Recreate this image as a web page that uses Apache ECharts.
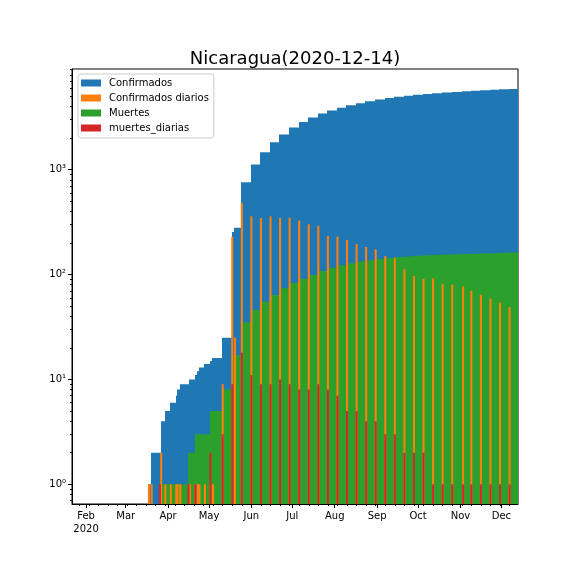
<!DOCTYPE html>
<html>
<head>
<meta charset="utf-8">
<script src="https://cdn.jsdelivr.net/npm/echarts@6/dist/echarts.min.js"></script>
<style>
html, body { margin: 0; padding: 0; background: #fff; }
#chart { width: 576px; height: 576px; }
</style>
</head>
<body>
<div id="chart"></div>
<script>
'use strict';

var DAY = 86400000;

// dias con cambios (2020)
var fechas = ['03-18', '03-20', '03-26', '03-27', '03-30', '04-03', '04-07', '04-08', '04-10', '04-16',
    '04-17', '04-21', '04-23', '04-24', '04-28', '05-02', '05-04', '05-11', '05-18', '05-20',
    '05-25', '06-01', '06-08', '06-15', '06-22', '06-29', '07-06', '07-13', '07-20', '07-27',
    '08-03', '08-10', '08-17', '08-24', '08-31', '09-07', '09-14', '09-21', '09-28', '10-05',
    '10-12', '10-19', '10-26', '11-03', '11-09', '11-16', '11-23', '11-30', '12-07'];
var confirmados = [1, 2, 2, 4, 5, 6, 7, 8, 9, 9,
    10, 11, 12, 13, 14, 15, 16, 25, 254, 279,
    759, 1118, 1464, 1823, 2170, 2519, 2846, 3147, 3439, 3672,
    3902, 4115, 4311, 4494, 4668, 4818, 4961, 5073, 5170, 5261,
    5353, 5434, 5514, 5591, 5661, 5725, 5784, 5838, 5887];
var confirmadosDiarios = [1, 1, 0, 2, 1, 1, 1, 1, 1, 0,
    1, 1, 1, 1, 1, 1, 1, 9, 229, 25,
    480, 359, 346, 359, 347, 349, 327, 301, 292, 233,
    230, 213, 196, 183, 174, 150, 143, 112, 97, 91,
    92, 81, 80, 77, 70, 64, 59, 54, 49];
var muertes = [0, 0, 1, 1, 1, 1, 1, 1, 1, 2,
    2, 3, 3, 3, 3, 5, 5, 8, 17, 17,
    35, 46, 55, 64, 74, 83, 91, 99, 108, 116,
    123, 128, 133, 137, 141, 144, 147, 149, 151, 153,
    154, 155, 156, 157, 158, 159, 160, 161, 162];
var muertesDiarias = [0, 0, 1, 0, 0, 0, 0, 0, 0, 1,
    0, 1, 0, 0, 0, 2, 0, 3, 9, 0,
    18, 11, 9, 9, 10, 9, 8, 8, 9, 8,
    7, 5, 5, 4, 4, 3, 3, 2, 2, 2,
    1, 1, 1, 1, 1, 1, 1, 1, 1];

var primerDia = '01-22';
var ultimoDia = '12-13';

var mesesTicks = ['02-01', '03-01', '04-01', '05-01', '06-01', '07-01', '08-01', '09-01', '10-01', '11-01', '12-01'];
var mesesLabels = ['Feb\n2020', 'Mar', 'Apr', 'May', 'Jun', 'Jul', 'Aug', 'Sep', 'Oct', 'Nov', 'Dec'];
var yTicks = [1, 10, 100, 1000];
var yLabels = ['10\u2070', '10\u00b9', '10\u00b2', '10\u00b3'];
var yMinor = [0.7, 0.8, 0.9, 2, 3, 4, 5, 6, 7, 8, 9, 20, 30, 40, 50, 60, 70, 80, 90,
    200, 300, 400, 500, 600, 700, 800, 900, 2000, 3000, 4000, 5000, 6000, 7000, 8000, 9000];

var Y_MIN = 0.649, Y_MAX = 9120;
var colores = ['#1f77b4', '#ff7f0e', '#2ca02c', '#d62728'];

function ts(md) {
    var p = md.split('-');
    return Date.UTC(2020, parseInt(p[0], 10) - 1, parseInt(p[1], 10));
}

var X_MIN = ts(primerDia) - 0.3 * DAY;
var X_MAX = ts(ultimoDia) + 0.15 * DAY;

// acumulados: un valor por dia, se mantiene el ultimo reportado
function acumulado(valores) {
    var out = [];
    var j = -1;
    for (var t = ts(primerDia); t <= ts(ultimoDia); t += DAY) {
        while (j + 1 < fechas.length && ts(fechas[j + 1]) <= t) j++;
        if (j >= 0 && valores[j] > 0) out.push([t, valores[j]]);
    }
    return out;
}

function diarios(valores) {
    var out = [];
    for (var i = 0; i < fechas.length; i++) {
        if (valores[i] > 0) out.push([ts(fechas[i]), valores[i]]);
    }
    return out;
}

// lunes para ticks menores
var semanas = [];
for (var t = ts('01-27'); t <= X_MAX; t += 7 * DAY) semanas.push(t);

function barra(anchoDias, pegado) {
    return function (params, api) {
        var t = api.value(0), v = api.value(1);
        var top = api.coord([t, v]);
        var izq = api.coord([t - anchoDias * DAY / 2, v])[0];
        var der = api.coord([t + anchoDias * DAY / 2, v])[0];
        var base = api.coord([t, Y_MIN]);
        if (pegado) {
            // bordes enteros para que las barras diarias queden sin rendijas
            izq = Math.round(izq);
            der = Math.round(der);
        }
        return {
            type: 'rect',
            shape: { x: izq, y: top[1], width: der - izq, height: base[1] - top[1] },
            style: { fill: api.visual('color') },
            silent: true
        };
    };
}

function serie(nombre, datos, color, ancho, pegado) {
    return {
        name: nombre,
        type: 'custom',
        renderItem: barra(ancho, pegado),
        itemStyle: { color: color },
        encode: { x: 0, y: 1 },
        data: datos,
        clip: true,
        animation: false
    };
}

function etiquetaMes(v) {
    var d = new Date(v);
    var md = ('0' + (d.getUTCMonth() + 1)).slice(-2) + '-' + ('0' + d.getUTCDate()).slice(-2);
    var i = mesesTicks.indexOf(md);
    return i >= 0 ? mesesLabels[i] : '';
}

var chart = echarts.init(document.getElementById('chart'), null, { renderer: 'canvas' });

chart.setOption({
    animation: false,
    textStyle: { fontFamily: 'DejaVu Sans', color: '#000' },
    title: {
        text: 'Nicaragua(2020-12-14)',
        left: 290,
        textAlign: 'center',
        top: 45,
        textStyle: { fontFamily: 'DejaVu Sans', fontSize: 18, fontWeight: 'normal', color: '#000' }
    },
    legend: {
        data: ['Confirmados', 'Confirmados diarios', 'Muertes', 'muertes_diarias'],
        orient: 'vertical',
        left: 78,
        top: 74,
        icon: 'rect',
        itemWidth: 20,
        itemHeight: 7,
        itemGap: 3,
        padding: [3, 5, 4, 3],
        borderColor: '#cccccc',
        borderWidth: 1,
        borderRadius: 3,
        backgroundColor: 'rgba(255,255,255,0.8)',
        textStyle: { fontFamily: 'DejaVu Sans', fontSize: 10, lineHeight: 12, color: '#000', padding: [0, 0, 0, 3] },
        selectedMode: false
    },
    grid: {
        left: 72, right: 58, top: 69, bottom: 72,
        show: true, borderColor: '#000', borderWidth: 1
    },
    xAxis: [{
        type: 'value',
        min: X_MIN,
        max: X_MAX,
        axisLine: { lineStyle: { color: '#000', width: 1 } },
        axisTick: { show: true, length: 4, lineStyle: { color: '#000' }, customValues: mesesTicks.map(ts) },
        axisLabel: {
            customValues: mesesTicks.map(ts),
            color: '#000', fontSize: 10, lineHeight: 13, margin: 6,
            fontFamily: 'DejaVu Sans',
            formatter: etiquetaMes
        },
        splitLine: { show: false }
    }, {
        type: 'value',
        min: X_MIN,
        max: X_MAX,
        position: 'bottom',
        axisLine: { show: false },
        axisTick: { show: true, length: 2, lineStyle: { color: '#000' }, customValues: semanas },
        axisLabel: { show: false },
        splitLine: { show: false }
    }],
    yAxis: [{
        type: 'log',
        min: Y_MIN,
        max: Y_MAX,
        logBase: 10,
        axisLine: { show: true, lineStyle: { color: '#000', width: 1 } },
        axisTick: { show: true, length: 4, lineStyle: { color: '#000' }, customValues: yTicks },
        axisLabel: {
            customValues: yTicks,
            color: '#000', fontSize: 10, margin: 6, fontFamily: 'DejaVu Sans',
            formatter: function (v) {
                var i = yTicks.indexOf(Math.round(v));
                return i >= 0 ? yLabels[i] : '';
            }
        },
        splitLine: { show: false }
    }, {
        type: 'log',
        min: Y_MIN,
        max: Y_MAX,
        logBase: 10,
        position: 'left',
        axisLine: { show: false },
        axisTick: { show: true, length: 2, lineStyle: { color: '#000' }, customValues: yMinor },
        axisLabel: { show: false },
        splitLine: { show: false }
    }],
    series: [
        serie('Confirmados', acumulado(confirmados), colores[0], 1, true),
        serie('Muertes', acumulado(muertes), colores[2], 1, true),
        serie('Confirmados diarios', diarios(confirmadosDiarios), colores[1], 1.5, false),
        serie('muertes_diarias', diarios(muertesDiarias), colores[3], 1.5, false)
    ]
});
</script>
</body>
</html>
